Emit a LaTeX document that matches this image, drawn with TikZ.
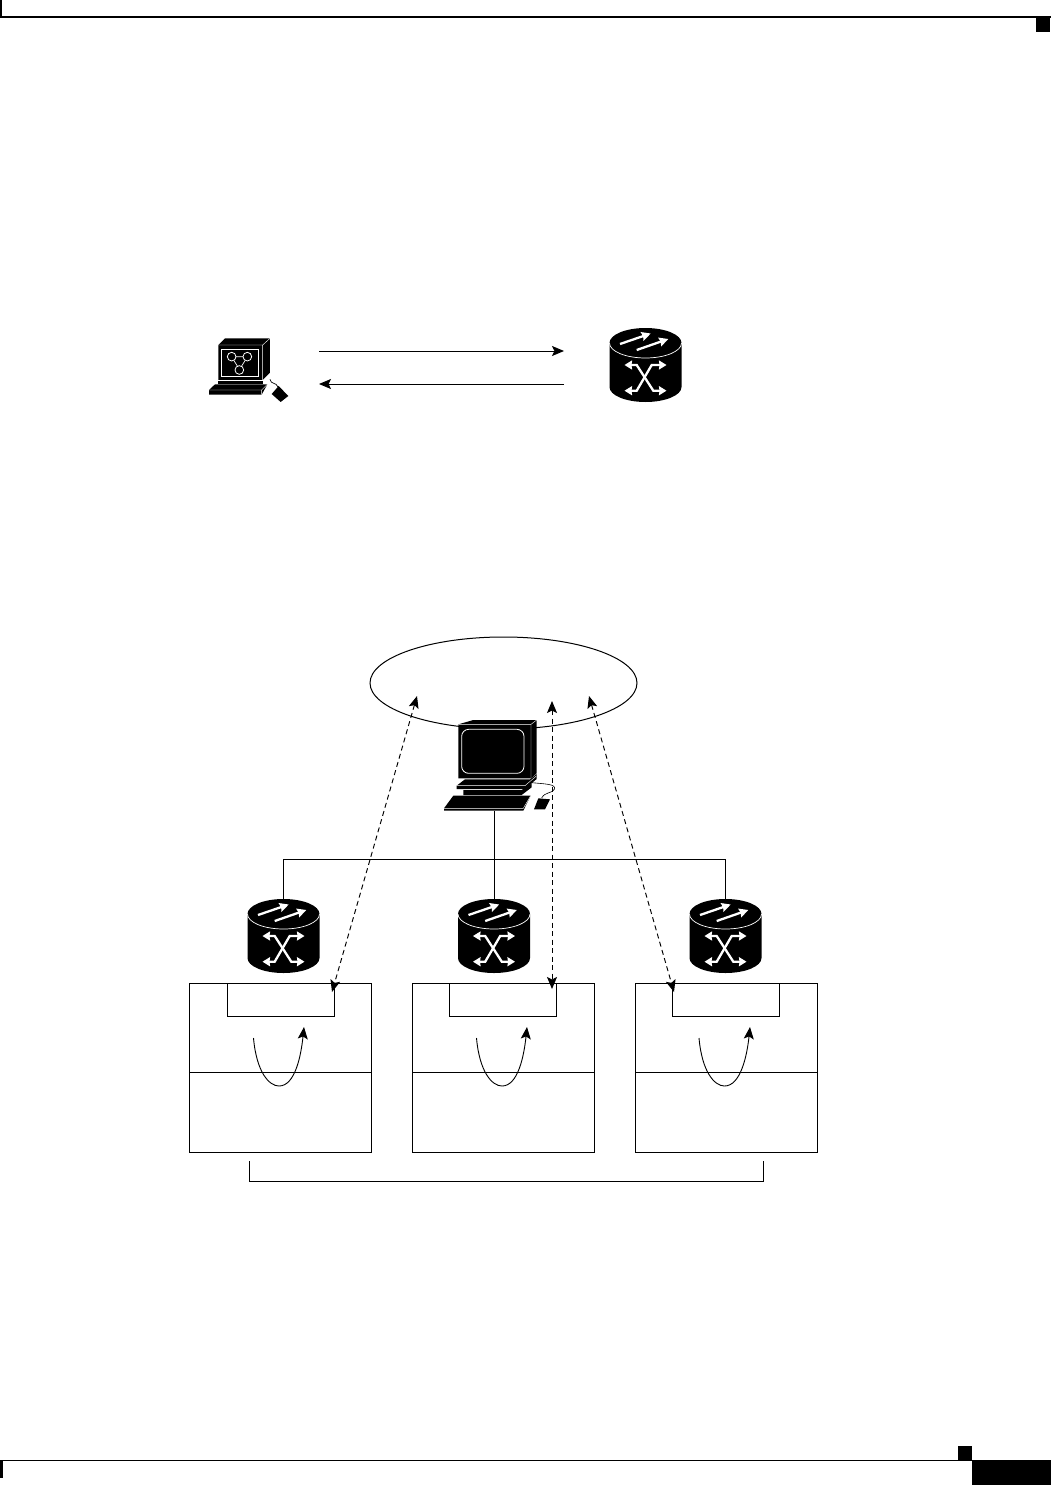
\documentclass[tikz,border=0pt]{standalone}
\usetikzlibrary{arrows.meta,shapes.geometric}
\tikzset{
  x=1pt,y=-1pt,
  thin line/.style={line width=1pt,draw=black},
  arrowed/.style={line width=0.9pt,-{Stealth[length=12pt,width=10pt,inset=2.5pt]}},
  dashlink/.style={line width=0.95pt,dash pattern=on 5pt off 3.5pt,{Stealth[length=12pt,width=10pt,inset=2.5pt]}-{Stealth[length=12pt,width=10pt,inset=2.5pt]}},
  devicebox/.style={draw=none,fill=none,inner sep=0pt,outer sep=0pt,minimum width=73pt,minimum height=74pt},
  framebox/.style={draw=black,line width=1pt,inner sep=0pt,outer sep=0pt,minimum width=182pt,anchor=north west},
  whiteln/.style={draw=white,line width=2.3pt},
  whitetip/.style={draw=white,line width=2.3pt,-{Stealth[length=9pt,width=9pt,inset=1pt]}},
  xarm/.style={whiteln,{Stealth[length=7.5pt,width=9pt,inset=0.5pt]}-{Stealth[length=7.5pt,width=9pt,inset=0.5pt]}},
  router/.pic={
    \fill[black] (-36,-22) .. controls (-36,-30.3) and (-20,-37) .. (0,-37) .. controls (20,-37) and (36,-30.3) .. (36,-22)
      -- (36,22) .. controls (36,30.3) and (20,37) .. (0,37) .. controls (-20,37) and (-36,30.3) .. (-36,22) -- cycle;
    \draw[white,line width=0.7pt] (-36,-22) .. controls (-36,-13.7) and (-20,-7) .. (0,-7) .. controls (20,-7) and (36,-13.7) .. (36,-22);
    \draw[whitetip] (-25.5,-21) -- (5.2,-31.5);
    \draw[whitetip] (-8.8,-15) -- (22.8,-26);
    \draw[xarm] (-21,0) -- (-8.8,0) -- (7.8,25.7) -- (21,25.7);
    \draw[xarm] (21,0) -- (6.2,0) -- (-8.8,25.7) -- (-21,25.7);
  }
}
\begin{document}
\begin{tikzpicture}
\useasboundingbox (0,0) rectangle (1051,1485);
% page furniture
\fill[black] (0,16.5) rectangle (1051,18);
\fill[black] (0,0) rectangle (2,17);
\fill[black] (1036,18) rectangle (1050,32);
\fill[black] (0,1459.5) rectangle (972,1461);
\fill[black] (972,1460) rectangle (1051,1485);
\fill[black] (958,1446) rectangle (972,1460);
\fill[black] (0,1460) rectangle (3,1478);

% top pair
\coordinate (a1) at (319,351);
\coordinate (a2) at (564,351);
\coordinate (a3) at (564,384);
\coordinate (a4) at (319,384);
\draw[arrowed] (a1) -- (a2);
\draw[arrowed] (a3) -- (a4);
\node[devicebox] (r0) at (645.5,365) {};
\pic at (r0) {router};
% small management terminal
\begin{scope}[shift={(190,320)},x=0.3333pt,y=-0.3333pt]
  \fill (85,75) -- (105,55) -- (240,55) -- (240,158) -- (218,180) -- (85,180) -- cycle;
  \draw[white,line width=0.4pt] (85,75) -- (218,75) -- (240,55) (218,75) -- (218,180);
  \draw[white,line width=0.9pt] (95,88) rectangle (205,168);
  \draw[white,line width=0.8pt] (125,110) circle[radius=13] (172,110) circle[radius=13] (148,150) circle[radius=13];
  \draw[white,line width=0.7pt] (138,110) -- (159,110) (132,122) -- (142,138) (165,122) -- (155,138);
  \fill (85,183) rectangle (218,191);
  \fill (57,210) -- (75,193) -- (232,193) -- (215,224) -- (57,224) -- cycle;
  \draw[white,line width=0.4pt] (57,210) -- (215,210) -- (232,193) (215,210) -- (215,224);
  \fill (245,222) -- (266,198) -- (295,228) -- (272,246) -- cycle;
  \draw[line width=0.7pt] (240,178) .. controls (243,195) and (258,185) .. (264,201);
\end{scope}

% cloud, drawn under the big monitor
\node[draw=black,line width=1pt,ellipse,inner sep=0pt,outer sep=0pt,minimum width=267pt,minimum height=92pt] (cloud) at (503.5,683) {};
% big monitor
\begin{scope}[shift={(430,710)},x=0.3333pt,y=-0.3333pt]
  \fill (85,43) -- (130,30) -- (320,30) -- (320,190) -- (303,205) -- (85,205) -- cycle;
  \draw[white,line width=0.4pt] (85,43) -- (303,43) -- (320,30) (303,43) -- (303,205);
  \draw[white,line width=0.8pt,rounded corners=7pt] (95,58) rectangle (282,190);
  \fill (105,208) -- (300,208) -- (320,192) -- (320,207) -- (285,237) -- (80,237) -- (80,227) -- cycle;
  \draw[white,line width=0.4pt] (80,227) -- (285,227) -- (318,199);
  \fill (100,240) -- (275,240) -- (305,220) -- (305,232) -- (275,255) -- (100,255) -- cycle;
  \fill (42,295) -- (70,257) -- (302,257) -- (280,302) -- (42,302) -- cycle;
  \draw[white,line width=0.4pt] (42,295) -- (280,295) -- (302,257);
  \fill (312,298) -- (325,265) -- (360,268) -- (345,298) -- cycle;
  \draw[line width=0.6pt] (305,218) .. controls (345,222) and (380,222) .. (373,238) .. controls (368,250) and (345,245) .. (335,264);
\end{scope}
\coordinate (pc) at (494.5,811);
\coordinate (bus) at (494.5,859);

% routers
\node[devicebox] (r1) at (283.5,936) {};
\node[devicebox] (r2) at (494,936) {};
\node[devicebox] (r3) at (725.5,936) {};
\foreach \r in {r1,r2,r3} \pic at (\r) {router};
\draw[thin line] (r1.north) -- (r1.north |- bus) -- (r3.north |- bus) -- (r3.north);
\draw[thin line] (pc) -- (pc |- r2.north);

% frames
\foreach \n/\x/\ix in {1/189.5/227.5,2/412.5/449.5,3/635.5/672.5}{
  \node[framebox,minimum height=168.5pt] (f\n) at (\x,983.5) {};
  \draw[thin line] (\x,1072) -- ++(182,0);
  \node[draw=black,line width=1pt,inner sep=0pt,outer sep=0pt,minimum width=106.5pt,minimum height=32.5pt,anchor=north west] (in\n) at (\ix,983.5) {};
}
% loops
\foreach \n/\sx/\bx/\ex in {1/253.5/279/304,2/476.5/502/527,3/699/724.5/750}{
  \coordinate (ls\n) at (\sx,1038);
  \coordinate (le\n) at (\ex,1027);
  \draw[arrowed] (ls\n) .. controls (\sx+3,1072) and (\bx-10,1086) .. (\bx,1086) .. controls (\bx+16,1086) and (\ex-3,1056) .. (le\n);
}
% dashed links
\coordinate (d1a) at (417,696); \coordinate (d1b) at (332,992);
\coordinate (d2a) at (552,701); \coordinate (d2b) at (552,989);
\coordinate (d3a) at (589,696); \coordinate (d3b) at (674,992);
\draw[dashlink] (d1a) -- (d1b);
\draw[dashlink] (d2a) -- (d2b);
\draw[dashlink] (d3a) -- (d3b);
% bracket
\coordinate (b1) at (249,1161);
\coordinate (b2) at (763.5,1161);
\draw[thin line] (b1) -- (249,1181) -- (763.5,1181) -- (b2);
\end{tikzpicture}
\end{document}
